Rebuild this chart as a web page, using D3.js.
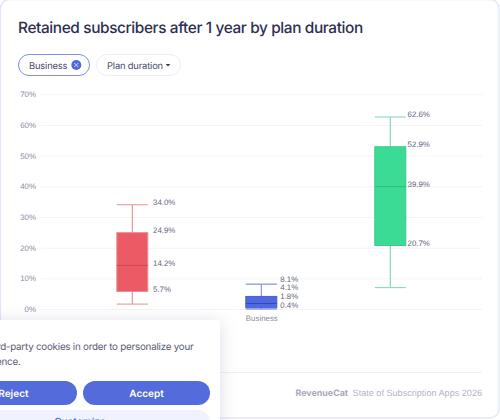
<!DOCTYPE html>
<html>
<head>
<meta charset="utf-8">
<script src="https://cdn.jsdelivr.net/npm/d3@7"></script>
<style>
html,body{margin:0;padding:0;background:#fff;overflow:hidden}
svg{display:block}
text{font-family:Inter,"Noto Sans",sans-serif;text-rendering:geometricPrecision}
.num{font-family:"Liberation Sans",Arial,sans-serif}
</style>
</head>
<body>
<svg id="chart" width="500" height="420"></svg>
<script>
// Retention distribution per plan duration
const groups = ["Short", "Business", "Long"];
const tickLabels = ["", "Business", ""];
const whiskerLow = [1.6, 0.0, 7.0];
const q1 = [5.7, 0.4, 20.7];
const median = [14.2, 1.8, 39.9];
const q3 = [24.9, 4.1, 52.9];
const whiskerHigh = [34.0, 8.1, 62.6];
const fills = ["#ec5a65", "#5068e0", "#3bdb95"];
const strokes = ["#e88f96", "#4460d8", "#3cc98d"];
const medianStrokes = ["#cf4a55", "#3049bd", "#2fbd7f"];
const whiskerStrokes = ["#e0808a", "#6b7fdc", "#6fd3ab"];
const capStrokes = ["#e9a3a9", "#7d8fe4", "#8fdcbd"];
const yTicks = [0, 10, 20, 30, 40, 50, 60, 70];

const svg = d3.select("#chart");
const defs = svg.append("defs");
const shadow = defs.append("filter").attr("id", "bannerShadow")
  .attr("x", "-20%").attr("y", "-30%").attr("width", "140%").attr("height", "160%");
shadow.append("feDropShadow").attr("dx", 0).attr("dy", 2).attr("stdDeviation", 9)
  .attr("flood-color", "#1f2555").attr("flood-opacity", 0.13);

// Card
svg.append("rect").attr("x", 0.5).attr("y", -0.5).attr("width", 498.5).attr("height", 418.5)
  .attr("rx", 9).attr("fill", "#fff").attr("stroke", "#e3e7fa").attr("stroke-width", 1.4);

svg.append("text").attr("x", 18).attr("y", 32.5).attr("font-size", 15.4).attr("font-weight", 500)
  .attr("letter-spacing", -0.38).attr("fill", "#2d2f52").text("Retained subscribers after 1 year by plan duration");

// Filter chips
svg.append("rect").attr("x", 18.5).attr("y", 54.5).attr("width", 71).attr("height", 21).attr("rx", 10.5)
  .attr("fill", "#fff").attr("stroke", "#7d8fe8");
svg.append("text").attr("x", 29).attr("y", 68.5).attr("font-size", 9.4).attr("letter-spacing", -0.18)
  .attr("fill", "#4a4c6b").text("Business");
svg.append("circle").attr("cx", 76.3).attr("cy", 65).attr("r", 5).attr("fill", "#4f68da");
svg.append("path").attr("d", "M74.3 63L78.3 67M78.3 63L74.3 67").attr("stroke", "#d5dbf8").attr("stroke-width", 1);
svg.append("rect").attr("x", 96.5).attr("y", 54.5).attr("width", 84).attr("height", 21).attr("rx", 10.5)
  .attr("fill", "#fff").attr("stroke", "#eeeef3");
svg.append("text").attr("x", 107).attr("y", 68.5).attr("font-size", 9.4).attr("letter-spacing", -0.18)
  .attr("fill", "#4a4c6b").text("Plan duration");
svg.append("path").attr("d", "M165.7 64L170.3 64L168 66.5Z").attr("fill", "#33354f");

// Scales
const y = d3.scaleLinear().domain([0, 70]).range([309, 94.3]);
const x = d3.scalePoint().domain(groups).range([132.3, 390.3]);
const labelX = d3.scalePoint().domain(groups).range([153, 407.5]);
const boxWidth = 31;

// Value axis with full-width gridlines
const yAxis = svg.append("g").attr("transform", "translate(41,0)")
  .call(d3.axisLeft(y).tickValues(yTicks).tickSize(-441).tickPadding(5).tickFormat(d => d + "%"));
yAxis.select(".domain").remove();
yAxis.selectAll(".tick line").attr("stroke", "#f3f3f6").attr("stroke-width", 1);
yAxis.selectAll(".tick text").attr("class", "num").attr("font-size", 7.9).attr("fill", "#8b8ca0");

// Category axis: only the filtered segment is labelled
const xAxis = svg.append("g").attr("transform", "translate(0,309)")
  .call(d3.axisBottom(x).tickSize(0).tickPadding(6).tickFormat((d, i) => tickLabels[i]));
xAxis.select(".domain").remove();
xAxis.selectAll(".tick text").attr("class", "num").attr("font-size", 7.9).attr("fill", "#8b8ca0");

// Boxes
groups.forEach((g, i) => {
  const cx = x(g);
  const mark = svg.append("g");
  mark.append("line").attr("x1", cx).attr("x2", cx).attr("y1", y(whiskerLow[i])).attr("y2", y(whiskerHigh[i]))
    .attr("stroke", whiskerStrokes[i]);
  [whiskerLow[i], whiskerHigh[i]].forEach(v => {
    mark.append("line").attr("x1", cx - boxWidth / 2).attr("x2", cx + boxWidth / 2)
      .attr("y1", y(v)).attr("y2", y(v)).attr("stroke", capStrokes[i]).attr("stroke-width", 1.2);
  });
  mark.append("rect").attr("x", cx - boxWidth / 2).attr("y", y(q3[i]))
    .attr("width", boxWidth).attr("height", y(q1[i]) - y(q3[i]))
    .attr("fill", fills[i]).attr("stroke", strokes[i]);
  mark.append("line").attr("x1", cx - boxWidth / 2).attr("x2", cx + boxWidth / 2)
    .attr("y1", y(median[i])).attr("y2", y(median[i])).attr("stroke", medianStrokes[i]);

  // Value labels, pushed upward when neighbours would collide
  const minGap = 8.7;
  let prev = Infinity;
  [q1[i], median[i], q3[i], whiskerHigh[i]].forEach(v => {
    const ly = Math.min(y(v) - 2.7, prev - minGap);
    prev = ly;
    svg.append("text").attr("class", "num").attr("x", labelX(g)).attr("y", ly).attr("dy", "0.35em")
      .attr("font-size", 7.9).attr("fill", "#63647e").text(v.toFixed(1) + "%");
  });
});

// Footer
svg.append("line").attr("x1", 0).attr("x2", 482).attr("y1", 372.5).attr("y2", 372.5).attr("stroke", "#f1f1f5");
svg.append("text").attr("x", 295.5).attr("y", 396).attr("font-size", 8.9).attr("font-weight", 700)
  .attr("fill", "#a9aabb").text("RevenueCat");
svg.append("text").attr("class", "num").attr("x", 482).attr("y", 396).attr("text-anchor", "end").attr("font-size", 9.1)
  .attr("fill", "#b4b5c5").text("State of Subscription Apps 2026");

// Consent banner
const banner = svg.append("g");
banner.append("rect").attr("x", -30).attr("y", 320).attr("width", 250).attr("height", 130).attr("rx", 4)
  .attr("fill", "#fff").attr("filter", "url(#bannerShadow)");
banner.append("text").attr("x", 193.5).attr("y", 350).attr("text-anchor", "end").attr("font-size", 9.8)
  .attr("letter-spacing", -0.23).attr("fill", "#5a5b75").text("We use first and third-party cookies in order to personalize your");
banner.append("text").attr("x", 20.5).attr("y", 365).attr("text-anchor", "end").attr("font-size", 9.8)
  .attr("letter-spacing", -0.23).attr("fill", "#5a5b75").text("experience.");
banner.append("rect").attr("x", -60).attr("y", 381).attr("width", 137).attr("height", 24).attr("rx", 12).attr("fill", "#536bdb");
banner.append("rect").attr("x", 83).attr("y", 381).attr("width", 127).attr("height", 24).attr("rx", 12).attr("fill", "#536bdb");
banner.append("rect").attr("x", -60).attr("y", 410).attr("width", 270).attr("height", 24).attr("rx", 12).attr("fill", "#f0f2fd");
banner.append("text").attr("x", 28.5).attr("y", 396.5).attr("text-anchor", "end").attr("font-size", 10).attr("font-weight", 600)
  .attr("fill", "#fff").text("Reject");
banner.append("text").attr("x", 146.5).attr("y", 396.5).attr("text-anchor", "middle").attr("font-size", 10).attr("font-weight", 600)
  .attr("fill", "#fff").text("Accept");
banner.append("text").attr("x", 80).attr("y", 425).attr("text-anchor", "middle").attr("font-size", 10).attr("font-weight", 600)
  .attr("fill", "#536bdb").text("Customize");
</script>
</body>
</html>
